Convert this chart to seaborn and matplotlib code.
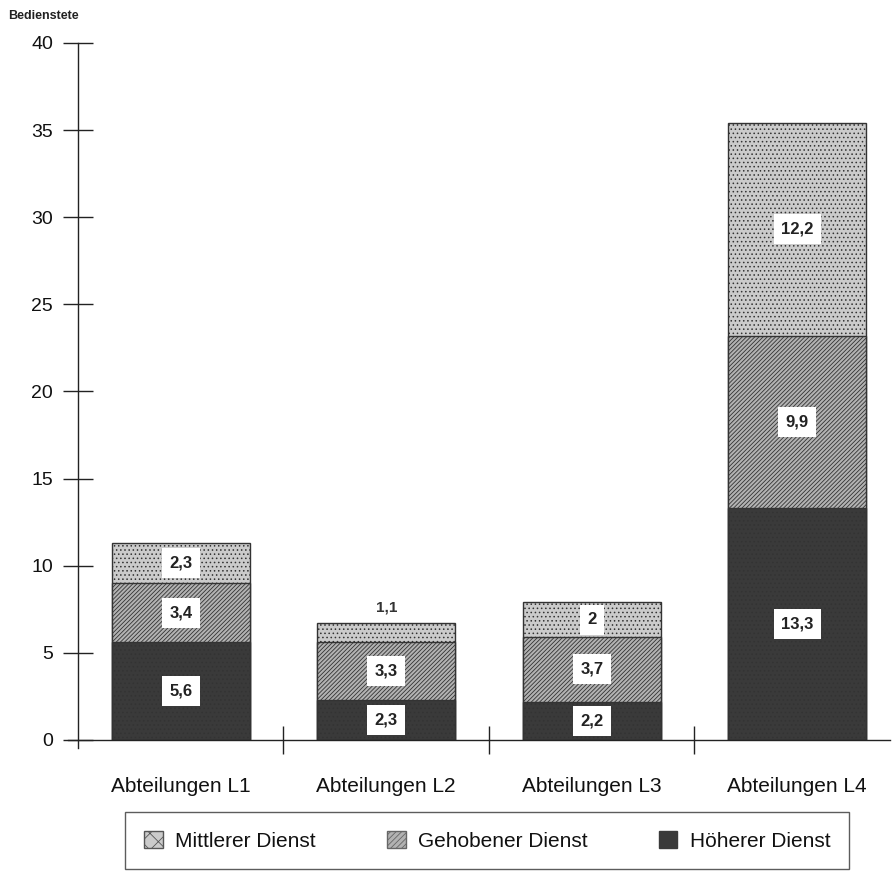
import matplotlib
matplotlib.use("Agg")
import matplotlib.pyplot as plt
from matplotlib.patches import Patch
import seaborn as sns
import pandas as pd

categories = ["Abteilungen L1", "Abteilungen L2", "Abteilungen L3", "Abteilungen L4"]
hoeherer = [5.6, 2.3, 2.2, 13.3]
gehobener = [3.4, 3.3, 3.7, 9.9]
mittlerer = [2.3, 1.1, 2.0, 12.2]
series_names = ["Mittlerer Dienst", "Gehobener Dienst", "Höherer Dienst"]
y_ticks = [0, 5, 10, 15, 20, 25, 30, 35, 40]

def fmt(v):
    return f"{v:g}".replace(".", ",")

sns.set_theme(style="white")
plt.rcParams["font.family"] = ["Liberation Sans", "DejaVu Sans"]
plt.rcParams["hatch.linewidth"] = 0.6

df = pd.DataFrame({"cat": categories, "H": hoeherer, "G": gehobener, "M": mittlerer})
df["HG"] = df["H"] + df["G"]
df["HGM"] = df["HG"] + df["M"]

fig = plt.figure(figsize=(8.94, 8.72), dpi=100)
ax = fig.add_axes([0.0872, 0.1514, 0.908, 0.7993])

styles = {
    "M": dict(color="#cbcbcb", edgecolor="#8a8a8a", hatch="...."),
    "G": dict(color="#b2b2b2", edgecolor="#555555", hatch="////////"),
    "H": dict(color="#3a3a3a", edgecolor="#5c5c5c", hatch="...."),
}

for col, key in [("HGM", "M"), ("HG", "G"), ("H", "H")]:
    sns.barplot(data=df, x="cat", y=col, ax=ax, width=0.67, linewidth=1.0,
                **styles[key])
for p in ax.patches:
    p.set_edgecolor("#333333")

ax.set_xlim(-0.5, 3.45)
ax.set_ylim(0, 40)
ax.set_yticks(y_ticks)
ax.set_yticklabels([str(t) for t in y_ticks], fontsize=14, color="#111111")
ax.set_xlabel("")
ax.set_ylabel("")
ax.set_xticks(range(len(categories)))
ax.set_xticklabels(categories, fontsize=15, color="#111111")
ax.tick_params(axis="x", which="major", length=0, pad=27, bottom=True)
ax.set_xticks([0.5, 1.5, 2.5], minor=True)
ax.tick_params(axis="x", which="minor", length=20, direction="inout", width=1.0,
               color="#222222", bottom=True)
ax.tick_params(axis="y", which="major", length=22, direction="inout", width=1.0,
               color="#222222", pad=7, left=True)

for s in ["top", "right"]:
    ax.spines[s].set_visible(False)
for s in ["left", "bottom"]:
    ax.spines[s].set_color("#222222")
    ax.spines[s].set_linewidth(1.0)
ax.spines["bottom"].set_bounds(-0.55, 3.45)
ax.spines["left"].set_bounds(-0.45, 40)

box = dict(boxstyle="square,pad=0.45", facecolor="white", edgecolor="none")
for i in range(len(categories)):
    h, g, m = hoeherer[i], gehobener[i], mittlerer[i]
    ax.text(i, h / 2, fmt(h), ha="center", va="center", fontsize=12,
            fontweight="bold", color="#222222", bbox=box)
    ax.text(i, h + g / 2, fmt(g), ha="center", va="center", fontsize=12,
            fontweight="bold", color="#222222", bbox=box)
    if m >= 1.5:
        ax.text(i, h + g + m / 2, fmt(m), ha="center", va="center", fontsize=12,
                fontweight="bold", color="#222222", bbox=box)
    else:
        ax.text(i, h + g + m + 0.5, fmt(m), ha="center", va="bottom", fontsize=11,
                fontweight="bold", color="#333333")

fig.text(0.009, 0.982, "Bedienstete", fontsize=9, fontweight="bold", color="#222222",
         ha="left", va="center")

handles = [
    Patch(facecolor=styles["M"]["color"], edgecolor="#555555", hatch="xx", label=series_names[0]),
    Patch(facecolor=styles["G"]["color"], edgecolor="#666666", hatch="//////", label=series_names[1]),
    Patch(facecolor=styles["H"]["color"], edgecolor="#3a3a3a", label=series_names[2]),
]
leg = fig.legend(handles=handles, loc="center", bbox_to_anchor=(0.545, 0.036), ncol=3,
                 fontsize=15, frameon=True, fancybox=False, edgecolor="#333333",
                 handlelength=0.9, handleheight=0.9, columnspacing=3.4, handletextpad=0.6,
                 borderpad=0.9, borderaxespad=0)
leg.get_frame().set_linewidth(1.0)
for t in leg.get_texts():
    t.set_color("#111111")

fig.savefig("out.png", dpi=100)
